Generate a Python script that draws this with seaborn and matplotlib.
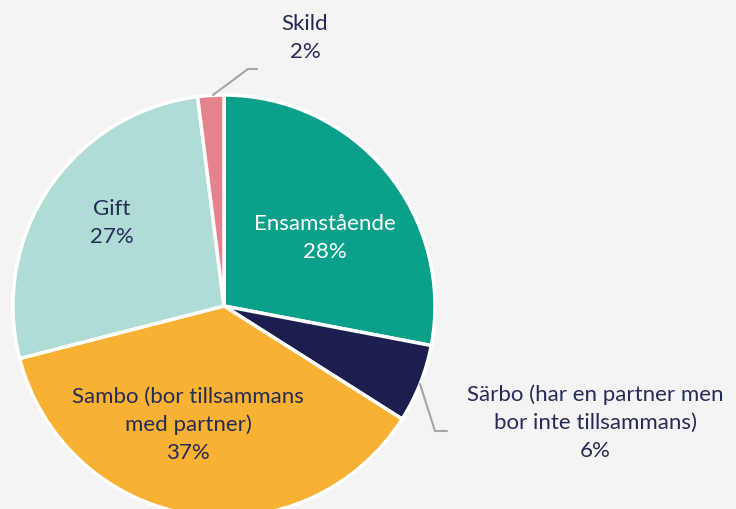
# %%
import matplotlib.pyplot as plt
import seaborn as sns

# %%
kategorier = ['Ensamstående', 'Särbo (har en partner men\nbor inte tillsammans)',
              'Sambo (bor tillsammans\nmed partner)', 'Gift', 'Skild']
andel = [28, 6, 37, 27, 2]
farger = ['#0ba08a', '#1c1f4e', '#f8b133', '#afdcd5', '#e4838b']

sns.set_style('white')
plt.rcParams['font.family'] = ['Lato', 'DejaVu Sans']
textfarg = '#262b55'
bg = '#f4f4f4'

# %%
fig = plt.figure(figsize=(7.36, 5.10), dpi=100, facecolor=bg)
ax = fig.add_axes([0, 0, 1, 1])
ax.set_facecolor(bg)

# pajen, medurs från kl 12
ax.pie(andel, colors=farger, startangle=90, counterclock=False,
       center=(224, 203), radius=211,
       wedgeprops=dict(edgecolor='white', linewidth=2.5))
ax.set_xlim(0, 736)
ax.set_ylim(0, 510)
ax.set_aspect('equal')
ax.axis('off')

# etiketter
fs = 16
ls = 1.5
ax.text(325, 272, f'{kategorier[0]}\n{andel[0]}%', color='white', fontsize=fs,
        ha='center', va='center', linespacing=ls)
ax.text(112, 287, f'{kategorier[3]}\n{andel[3]}%', color=textfarg, fontsize=fs,
        ha='center', va='center', linespacing=ls)
ax.text(188, 85, f'{kategorier[2]}\n{andel[2]}%', color=textfarg, fontsize=fs,
        ha='center', va='center', linespacing=ls)
ax.text(595, 87, f'{kategorier[1]}\n{andel[1]}%', color=textfarg, fontsize=fs,
        ha='center', va='center', linespacing=ls)
ax.text(305, 472, f'{kategorier[4]}\n{andel[4]}%', color=textfarg, fontsize=fs,
        ha='center', va='center', linespacing=ls)

# ledarlinjer
ax.plot([213, 248, 257], [414, 440, 440], color='#a5a5a5', lw=1.5)
ax.plot([420, 435, 447], [125, 78, 78], color='#a5a5a5', lw=1.5)

plt.savefig('out.png', dpi=100, facecolor=bg)
